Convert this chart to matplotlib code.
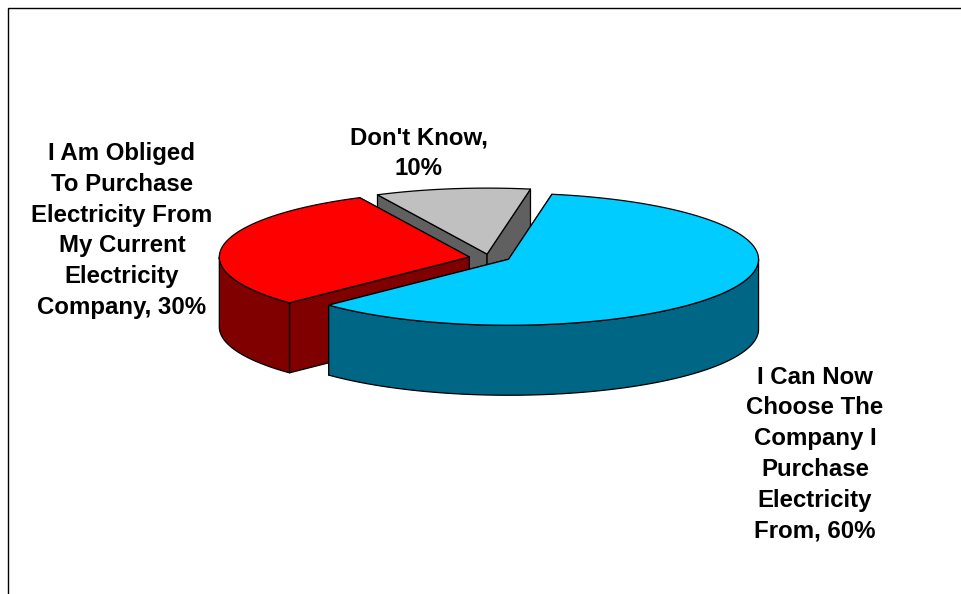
import matplotlib
matplotlib.use("Agg")
import matplotlib.pyplot as plt
from matplotlib.patches import Polygon, Rectangle
import numpy as np

plt.rcParams["font.family"] = ["Liberation Sans", "DejaVu Sans"]

labels = ["I Can Now\nChoose The\nCompany I\nPurchase\nElectricity\nFrom, 60%",
          "I Am Obliged\nTo Purchase\nElectricity From\nMy Current\nElectricity\nCompany, 30%",
          "Don't Know,\n10%"]
values = [60, 30, 10]
top_colors = ["#00CCFF", "#FF0000", "#C0C0C0"]
side_colors = ["#006685", "#800000", "#606060"]
label_pos = [(815, 454), (122, 230.5), (419, 153)]

# pie geometry, in pixels
cx, cy = 490, 257.6
rx, ry = 250, 66
depth = 70
explode = 0.084
explode_ry = 42
start_angle = 80

fig = plt.figure(figsize=(9.62, 5.94), dpi=100)
ax = fig.add_axes([0, 0, 1, 1])
ax.set_xlim(0, 962)
ax.set_ylim(594, 0)
ax.axis("off")

ax.add_patch(Rectangle((8, 8), 1000, 1000, fill=False, ec="black", lw=1))


def rim(x0, y0, t, dy=0):
    t = np.radians(t)
    return np.column_stack([x0 + rx * np.cos(t), y0 - ry * np.sin(t) + dy])


# work out each slice's clockwise angle range
spans = []
t0 = start_angle
for v in values:
    t1 = t0 - 360 * v / sum(values)
    spans.append((t0, t1))
    t0 = t1

# back slice first so the nearer ones cover it
for i in [2, 1, 0]:
    t0, t1 = spans[i]
    mid = np.radians((t0 + t1) / 2)
    x0 = cx + explode * rx * np.cos(mid)
    y0 = cy - explode * explode_ry * np.sin(mid)
    apex = np.array([[x0, y0]])
    bottom = np.array([[x0, y0 + depth]])

    # cut faces
    for t in [t1, t0] if i == 1 else [t0, t1]:
        quad = np.vstack([apex, rim(x0, y0, t), rim(x0, y0, t, depth), bottom])
        ax.add_patch(Polygon(quad, fc=side_colors[i], ec="black", lw=0.9, joinstyle="round"))

    # outer wall, only the part facing the front
    a = max(t0 if t0 < 0 else 0, -180)
    b = max(t1, -180)
    if t0 > 0:
        a = 0
    if a > b:
        ts = np.linspace(a, b, 120)
        wall = np.vstack([rim(x0, y0, ts), rim(x0, y0, ts[::-1], depth)])
        ax.add_patch(Polygon(wall, fc=side_colors[i], ec="black", lw=0.9, joinstyle="round"))

    # top of the slice
    ts = np.linspace(t0, t1, 200)
    top = np.vstack([apex, rim(x0, y0, ts)])
    ax.add_patch(Polygon(top, fc=top_colors[i], ec="black", lw=0.9, joinstyle="round"))

for lab, (x, y) in zip(labels, label_pos):
    ax.text(x, y, lab, ha="center", va="center", fontsize=17.3, fontweight="bold",
            linespacing=1.43, color="black")

fig.savefig("out.png", dpi=100)
